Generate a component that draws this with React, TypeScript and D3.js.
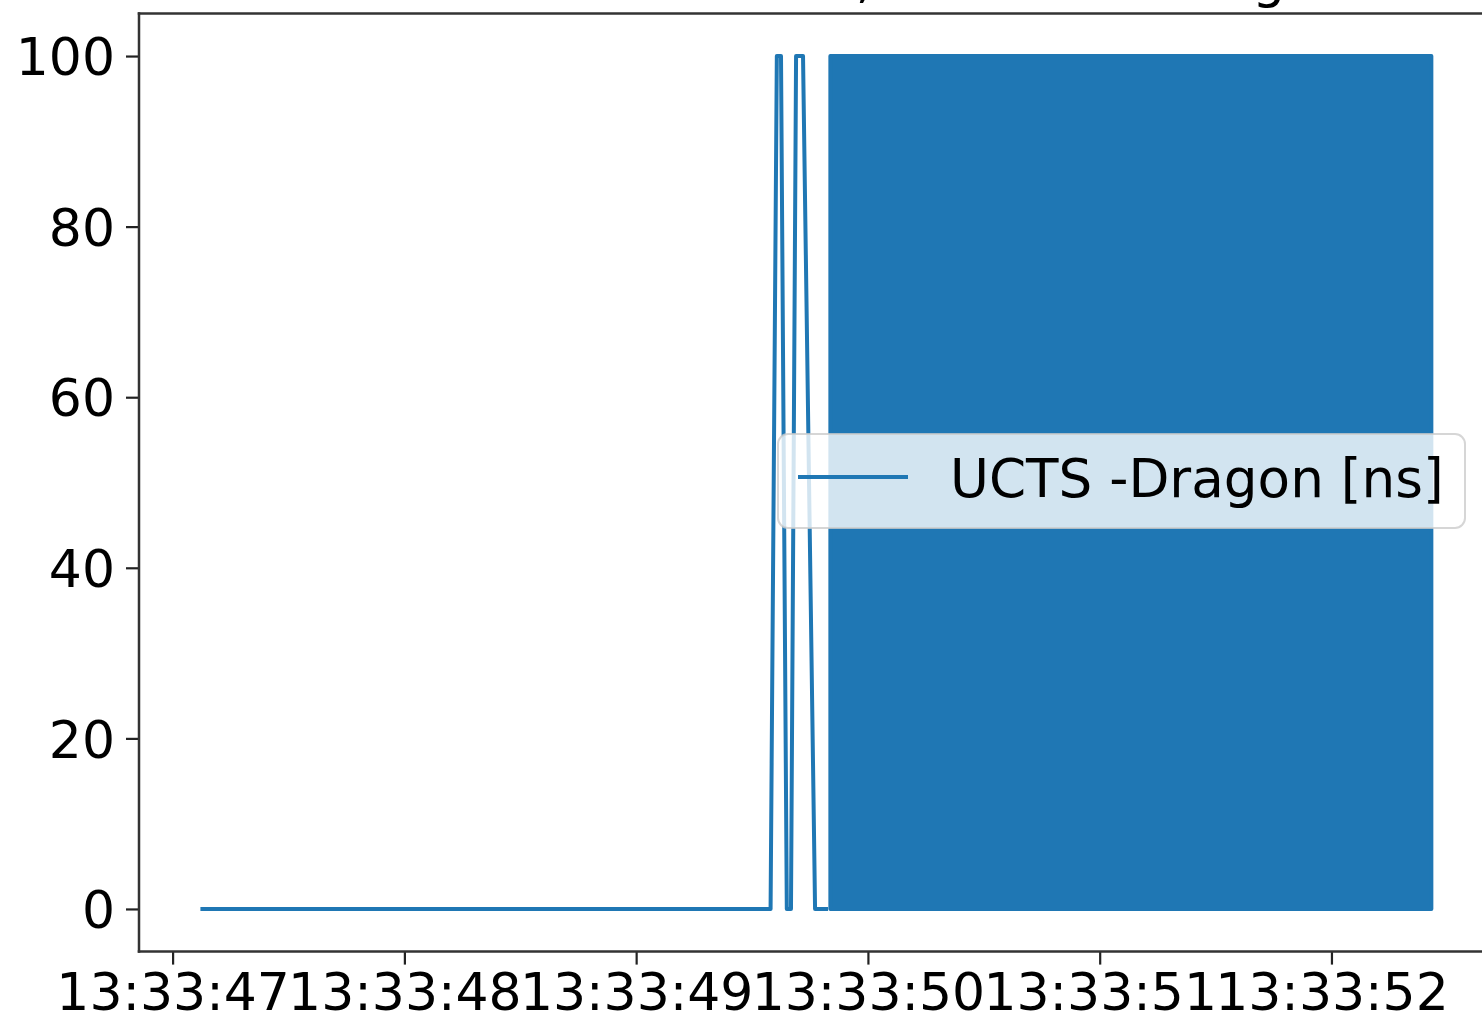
import { useRef, useEffect } from "react";
import * as d3 from "d3";

// times are "13:33:SS.mmm", values in ns
const sparseTimes = [
  "13:33:47.120",
  "13:33:49.580",
  "13:33:49.607",
  "13:33:49.625",
  "13:33:49.650",
  "13:33:49.668",
  "13:33:49.690",
  "13:33:49.720",
  "13:33:49.772",
  "13:33:49.828",
];
const sparseValues = [0, 0, 100, 100, 0, 0, 100, 100, 0, 0];

// the signal toggles 0 <-> 100 thousands of times here, drawn as a solid band
const denseTimes = ["13:33:49.838", "13:33:52.431"];
const denseLow = [0, 0];
const denseHigh = [100, 100];

const xTickTimes = ["13:33:47.000", "13:33:48.000", "13:33:49.000", "13:33:50.000", "13:33:51.000", "13:33:52.000"];
const yTicks = [0, 20, 40, 60, 80, 100];

const seriesName = "UCTS -Dragon [ns]";
const titleText = "Time difference, UCTS and Dragon";

const BLUE = "#1f77b4";
const FONT = "DejaVu Sans, sans-serif";

function App() {
  const chartRef = useRef<SVGSVGElement | null>(null);

  useEffect(() => {
    const width = 1482;
    const height = 1019;
    const parse = d3.utcParse("%H:%M:%S.%L");

    const svg = d3.select(chartRef.current);
    svg.selectAll("*").remove();
    svg.attr("width", width).attr("height", height);

    const sparse = sparseTimes.map((t, i) => ({ t: parse(t) as Date, v: sparseValues[i] }));
    const dense = denseTimes.map((t, i) => ({ t: parse(t) as Date, lo: denseLow[i], hi: denseHigh[i] }));

    // matplotlib style 5% margins
    const tMin = sparse[0].t.getTime();
    const tMax = dense[dense.length - 1].t.getTime();
    const pad = (tMax - tMin) * 0.05;
    const xScale = d3
      .scaleUtc()
      .domain([new Date(tMin - pad), new Date(tMax + pad)])
      .range([139, 1493]);

    const yScale = d3.scaleLinear().domain([-5, 105]).range([951.6, 13.4]);

    // title (cut off at top of the picture)
    svg
      .append("text")
      .attr("x", 451)
      .attr("y", -3)
      .attr("font-family", FONT)
      .attr("font-size", 52)
      .attr("fill", "#000")
      .text(titleText);

    // dense band
    const area = d3
      .area<{ t: Date; lo: number; hi: number }>()
      .x((d) => xScale(d.t))
      .y0((d) => yScale(d.lo))
      .y1((d) => yScale(d.hi));
    svg
      .append("path")
      .datum(dense)
      .attr("d", area)
      .attr("fill", BLUE)
      .attr("stroke", BLUE)
      .attr("stroke-width", 4)
      .attr("stroke-linejoin", "round");

    // sparse part of the line
    const line = d3
      .line<{ t: Date; v: number }>()
      .x((d) => xScale(d.t))
      .y((d) => yScale(d.v));
    svg
      .append("path")
      .datum(sparse)
      .attr("d", line)
      .attr("fill", "none")
      .attr("stroke", BLUE)
      .attr("stroke-width", 4)
      .attr("stroke-linejoin", "round");

    // axes
    const xAxis = d3
      .axisBottom(xScale)
      .tickValues(xTickTimes.map((t) => parse(t) as Date))
      .tickFormat((d) => d3.utcFormat("%H:%M:%S")(d as Date))
      .tickSize(13)
      .tickPadding(7);
    const gx = svg.append("g").attr("transform", `translate(0, ${yScale(-5)})`).call(xAxis);

    const yAxis = d3.axisLeft(yScale).tickValues(yTicks).tickSize(13).tickPadding(11);
    const gy = svg.append("g").attr("transform", `translate(${xScale.range()[0]}, 0)`).call(yAxis);

    [gx, gy].forEach((g) => {
      g.select(".domain").remove();
      g.selectAll(".tick line").attr("stroke", "#222").attr("stroke-width", 2.2);
      g.selectAll(".tick text")
        .attr("font-family", FONT)
        .attr("font-size", 52)
        .attr("fill", "#000");
    });
    gy.selectAll(".tick text").attr("dy", "0.36em");
    gx.selectAll(".tick text").attr("dy", "0.74em");

    // spines
    const [x0, x1] = xScale.range();
    const [yb, yt] = yScale.range();
    const spines = [
      [x0, yb, x1, yb],
      [x0, yt, x1, yt],
      [x0, yb, x0, yt],
      [x1, yb, x1, yt],
    ];
    svg
      .append("g")
      .selectAll("line")
      .data(spines)
      .join("line")
      .attr("x1", (d) => d[0])
      .attr("y1", (d) => d[1])
      .attr("x2", (d) => d[2])
      .attr("y2", (d) => d[3])
      .attr("stroke", "#333")
      .attr("stroke-width", 2.5)
      .attr("stroke-linecap", "square");

    // legend
    const lg = svg.append("g").attr("transform", "translate(778, 434)");
    lg.append("rect")
      .attr("width", 687)
      .attr("height", 94)
      .attr("rx", 10)
      .attr("fill", "#fff")
      .attr("fill-opacity", 0.8)
      .attr("stroke", "#ccc")
      .attr("stroke-opacity", 0.8)
      .attr("stroke-width", 2);
    lg.append("line")
      .attr("x1", 20)
      .attr("x2", 130)
      .attr("y1", 43)
      .attr("y2", 43)
      .attr("stroke", BLUE)
      .attr("stroke-width", 4);
    lg.append("text")
      .attr("x", 172)
      .attr("y", 63)
      .attr("font-family", FONT)
      .attr("font-size", 53.2)
      .attr("fill", "#000")
      .text(seriesName);
  }, []);

  return (
    <div style={{ position: "absolute", left: 0, top: 0, background: "#fff" }}>
      <svg ref={chartRef} style={{ display: "block" }}></svg>
    </div>
  );
}

export default App;
